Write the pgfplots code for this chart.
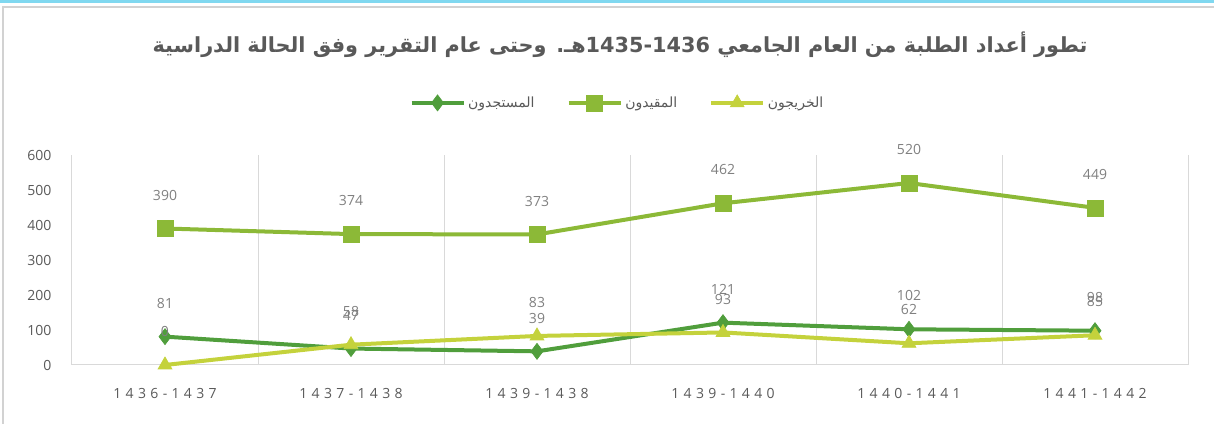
\documentclass[border=0pt]{standalone}
\usepackage{pgfplots}
\pgfplotsset{compat=1.18}
\usepackage{fontspec}
\setmainfont{Open Sans}
\TeXXeTstate=1
\newfontfamily\arabicfont[Script=Arabic]{DejaVu Sans}
\newfontfamily\spaced[LetterSpace=31]{Open Sans}
\definecolor{cA}{HTML}{509E3C}
\definecolor{cB}{HTML}{8CB937}
\definecolor{cC}{HTML}{C4D23C}
\definecolor{txt}{HTML}{595959}
\definecolor{lbl}{HTML}{808080}
\definecolor{gridc}{HTML}{D9D9D9}
\definecolor{bluel}{HTML}{80D8F0}
\begin{document}
\begin{tikzpicture}
\path[use as bounding box] (0,0) rectangle (910.5pt,318pt);
\fill[bluel] (0,316pt) rectangle (910.5pt,318pt);
\draw[gray!35, line width=1.5pt] (2.5pt,0) -- (2.5pt,312.75pt) -- (910.5pt,312.75pt);
\node[font=\arabicfont\bfseries\fontsize{15.6}{18}\selectfont, text=txt] at (465pt,284.25pt)
 {\beginR تطور أعداد الطلبة من العام الجامعي \beginL1435-1436\endL{}هـ. وحتى عام التقرير وفق الحالة الدراسية\endR};
\begin{axis}[
 at={(54pt,44.25pt)}, anchor=south west, scale only axis,
 width=837pt, height=157.5pt,
 xmin=-0.5, xmax=5.5, ymin=0, ymax=600,
 axis x line*=bottom, axis y line*=left,
 axis line style={draw=gridc, line width=0.75pt, -},
 xtick={0,...,5},
 xticklabels={1436-1437,1437-1438,1439-1438,1439-1440,1440-1441,1441-1442},
 xtick style={draw=none},
 minor xtick={0.5,1.5,2.5,3.5,4.5,5.5},
 xminorgrids, minor grid style={draw=gridc, line width=0.75pt},
 minor tick length=0pt,
 ytick={0,100,...,600}, ytick style={draw=none},
 /pgf/number format/assume math mode=true,
 yticklabel style={font=\fontsize{10.5}{12}\selectfont, text=txt, xshift=-12pt},
 xticklabel style={font=\spaced\fontsize{10.5}{12}\selectfont, text=txt, yshift=-14pt},
 nodes near coords,
 every node near coord/.append style={font=\fontsize{10.5}{12}\selectfont, text=lbl, inner sep=0pt, yshift=25pt, anchor=center},
 legend columns=3,
 legend style={at={(0.489,1.248)}, anchor=center, draw=none, fill=none,
   font=\arabicfont\fontsize{10.5}{13}\selectfont, text=txt,
   /tikz/every even column/.append style={column sep=22pt}},
 legend image code/.code={\draw[mark repeat=2,mark phase=2] plot coordinates {(0pt,0pt)(19.5pt,0pt)(39pt,0pt)};},
 clip=false,
]
\addplot[cA, line width=3pt, mark=diamond*, mark size=6pt, mark options={solid, line width=0.5pt}]
 coordinates {(0,81)(1,47)(2,39)(3,121)(4,102)(5,98)};
\addlegendentry{\beginR المستجدون\endR}
\addplot[cB, line width=3pt, mark=square*, mark size=6pt, mark options={solid, line width=0.5pt}]
 coordinates {(0,390)(1,374)(2,373)(3,462)(4,520)(5,449)};
\addlegendentry{\beginR المقيدون\endR}
\addplot[cC, line width=3pt, mark=triangle*, mark size=6pt, mark options={solid, line width=0.5pt}]
 coordinates {(0,0)(1,58)(2,83)(3,93)(4,62)(5,85)};
\addlegendentry{\beginR الخريجون\endR}
\end{axis}
\end{tikzpicture}
\end{document}
